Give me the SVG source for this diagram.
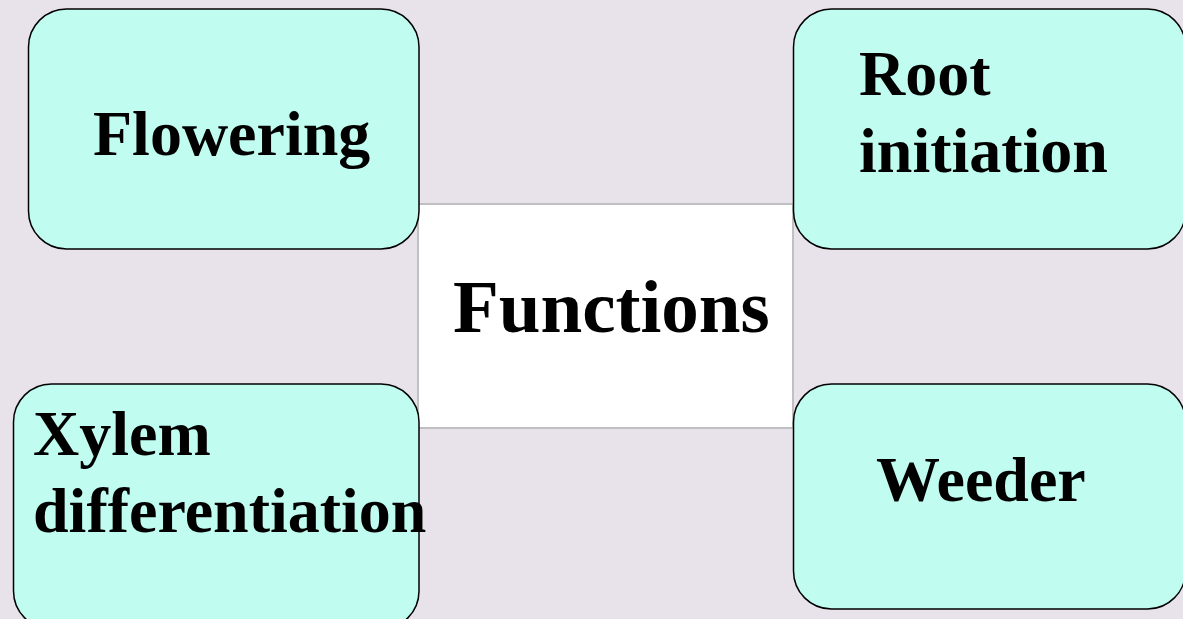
<svg xmlns="http://www.w3.org/2000/svg" width="1183" height="619" viewBox="0 0 1183 619">
<style>
.bg{fill:#e8e3ea}
.leaf{fill:#c0fdf0;stroke:#000;stroke-width:1.5}
.center{fill:#fff;stroke:#c0c0c0;stroke-width:2}
text{font-family:"Liberation Serif","Times New Roman",serif;font-weight:bold;fill:#000}
.t{font-size:64px}
.c{font-size:75px}
</style>
<rect class="bg" x="0" y="0" width="1183" height="619"/>
<g id="connectors"></g>
<g id="functions">
<rect class="center" x="418" y="204" width="375" height="224"/>
<text class="c" x="453" y="332">Functions</text>
</g>
<g id="flowering">
<rect class="leaf" x="28.5" y="9" width="390.5" height="240" rx="38" ry="38"/>
<text class="t" x="93" y="155">Flowering</text>
</g>
<g id="root-initiation">
<rect class="leaf" x="793.5" y="9" width="392" height="240" rx="38" ry="38"/>
<text class="t" x="859" y="95">Root</text>
<text class="t" x="859" y="172">initiation</text>
</g>
<g id="xylem-differentiation">
<rect class="leaf" x="13.5" y="384" width="405.5" height="245" rx="38" ry="38"/>
<text class="t" x="33" y="455">Xylem</text>
<text class="t" x="33" y="532">differentiation</text>
</g>
<g id="weeder">
<rect class="leaf" x="793.5" y="384" width="392" height="225" rx="38" ry="38"/>
<text class="t" x="876" y="501">Weeder</text>
</g>
</svg>
